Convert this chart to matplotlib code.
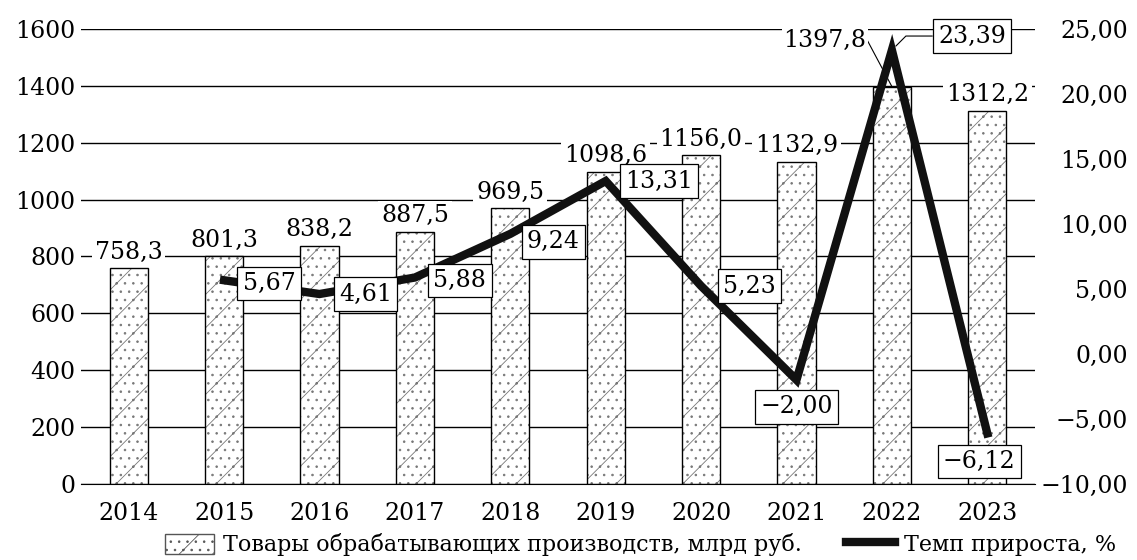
import matplotlib
matplotlib.use("Agg")
import matplotlib.pyplot as plt
from matplotlib.lines import Line2D
from matplotlib.patches import Patch

plt.rcParams["font.family"] = ["DejaVu Serif"]
plt.rcParams["hatch.linewidth"] = 0.6

YEARS = ["2014", "2015", "2016", "2017", "2018", "2019", "2020", "2021", "2022", "2023"]
GOODS = [758.3, 801.3, 838.2, 887.5, 969.5, 1098.6, 1156.0, 1132.9, 1397.8, 1312.2]
GROWTH_YEARS = YEARS[1:]
GROWTH = [5.67, 4.61, 5.88, 9.24, 13.31, 5.23, -2.00, 23.39, -6.12]

LEG_BAR = "Товары обрабатывающих производств, млрд руб."
LEG_LINE = "Темп прироста, %"


def ru(v, nd):
    s = f"{abs(v):.{nd}f}".replace(".", ",")
    return ("\u2212" + s) if v < 0 else s


FS = 17
HATCH = "/.."
fig = plt.figure(figsize=(11.37, 5.6), dpi=100)
ax = fig.add_axes([0.0712, 0.136, 0.9103 - 0.0712, 0.948 - 0.136])
ax2 = ax.twinx()

x = list(range(len(YEARS)))
ax.bar(x, GOODS, width=0.4, color="white", edgecolor="#777777", hatch=HATCH, lw=0, zorder=2)
ax.bar(x, GOODS, width=0.4, fill=False, edgecolor="black", lw=1.0, zorder=3)
ax.set_xlim(-0.5, len(YEARS) - 0.5)
ax.set_ylim(0, 1600)
ax.set_yticks(range(0, 1601, 200))
ax.grid(axis="y", color="black", lw=1.0, zorder=0)
ax.set_axisbelow(True)
ax.set_xticks(x)
ax.set_xticklabels(YEARS)
for s in ("top", "right", "left"):
    ax.spines[s].set_visible(False)
    ax2.spines[s].set_visible(False)
ax2.spines["bottom"].set_visible(False)
ax.tick_params(axis="both", length=0, labelsize=FS)
ax.tick_params(axis="y", pad=4)
ax.tick_params(axis="x", pad=13)

# bar value labels
for i, v in enumerate(GOODS):
    if v == max(GOODS):
        ax.annotate(ru(v, 1), xy=(i, v), xytext=(-67, 46), textcoords="offset pixels",
                    ha="center", va="center", fontsize=FS, zorder=6,
                    bbox=dict(boxstyle="square,pad=0.05", fc="white", ec="none"),
                    arrowprops=dict(arrowstyle="-", color="black", lw=0.8, shrinkA=0, shrinkB=0,
                                    relpos=(1, 0.5),
                                    connectionstyle="angle,angleA=0,angleB=118,rad=0"))
    else:
        ax.annotate(ru(v, 1), xy=(i, v), xytext=(0, 16), textcoords="offset pixels",
                    ha="center", va="center", fontsize=FS, zorder=4,
                    bbox=dict(boxstyle="square,pad=0.12", fc="white", ec="none"))

# growth line
gx = [YEARS.index(y) for y in GROWTH_YEARS]
ax2.plot(gx, GROWTH, color="#111111", lw=6, solid_joinstyle="miter", zorder=5)
ax2.set_ylim(-10, 25)
ax2.set_yticks(range(-10, 26, 5))
ax2.set_yticklabels([ru(t, 2) for t in range(-10, 26, 5)], ha="right")
ax2.tick_params(axis="y", length=0, labelsize=FS, pad=67)

offs = [(45, -3), (46, 0), (45, -3), (43, -8), (53, 0), (48, 0), (0, -27), (80, 14), (-8, -28)]
for xi, v, (dx, dy) in zip(gx, GROWTH, offs):
    kw = {}
    if v == max(GROWTH):
        kw["arrowprops"] = dict(arrowstyle="-", color="black", lw=0.8, shrinkA=0, shrinkB=4,
                                relpos=(0, 0.5),
                                connectionstyle="angle,angleA=0,angleB=45,rad=0")
    ax2.annotate(ru(v, 2), xy=(xi, v), xytext=(dx, dy), textcoords="offset pixels",
                 ha="center", va="center", fontsize=FS, zorder=7,
                 bbox=dict(boxstyle="square,pad=0.22", fc="white", ec="black", lw=0.9), **kw)

handles = [Patch(facecolor="white", edgecolor="#555555", hatch=HATCH, lw=1.0),
           Line2D([], [], color="#111111", lw=6)]
fig.legend(handles, [LEG_BAR, LEG_LINE], loc="lower right", bbox_to_anchor=(0.997, -0.025),
           ncol=2, frameon=False, fontsize=16, handlelength=2.2, handleheight=1.0,
           columnspacing=2.0, handletextpad=0.4, borderpad=0.3)

fig.savefig("out.png", dpi=100)
